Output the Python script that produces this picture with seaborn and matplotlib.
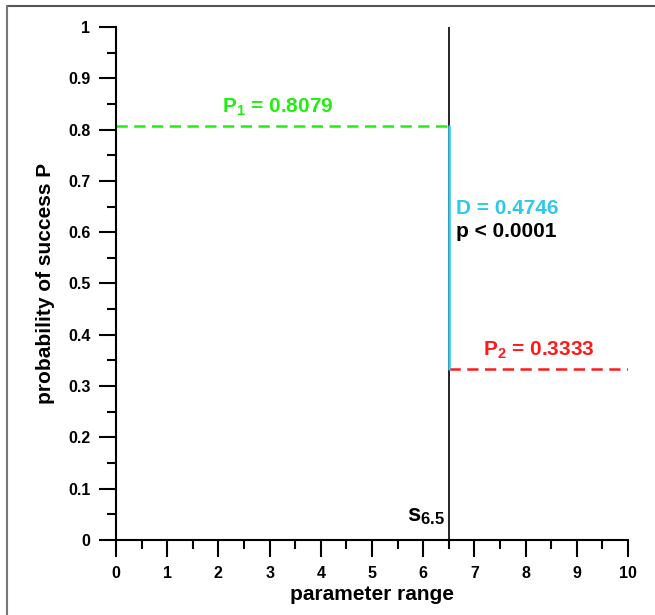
import matplotlib
matplotlib.use("Agg")
import matplotlib.pyplot as plt
from matplotlib.lines import Line2D
from matplotlib.ticker import MultipleLocator, FormatStrFormatter
import seaborn as sns

# data
split_x = 6.5
p1 = 0.8079
p2 = 0.3333
d_value = 0.4746
x_range = [0, 10]
p1_x = [0, 6.5]
p1_y = [0.8079, 0.8079]
p2_x = [6.5, 10]
p2_y = [0.3333, 0.3333]
d_x = [6.5, 6.5]
d_y = [0.3333, 0.8079]
split_y = [0, 1]

sns.set_theme(style="ticks")
plt.rcParams['font.family'] = ['Liberation Sans', 'DejaVu Sans']
plt.rcParams['font.weight'] = 'bold'
plt.rcParams['text.color'] = 'black'
plt.rcParams['axes.labelcolor'] = 'black'
plt.rcParams['mathtext.fontset'] = 'custom'
plt.rcParams['mathtext.rm'] = 'Liberation Sans:bold'
plt.rcParams['mathtext.bf'] = 'Liberation Sans:bold'
plt.rcParams['mathtext.it'] = 'Liberation Sans:bold'
plt.rcParams['mathtext.default'] = 'bf'

fig = plt.figure(figsize=(6.55, 6.15), dpi=100)
ax = fig.add_axes([116/655, 1-540/615, 512/655, 513/615])

green = '#22ee11'
cyan = '#2ec8ee'
red = '#ff1a1a'
dash = (0, (4.5, 2.6))

common = dict(ax=ax, estimator=None, sort=False, errorbar=None)
sns.lineplot(x=[split_x, split_x], y=split_y, color='black', lw=1.2, **common)
sns.lineplot(x=p1_x, y=p1_y, color=green, lw=1.8, linestyle=dash, **common)
sns.lineplot(x=p2_x, y=p2_y, color=red, lw=1.8, linestyle=dash, **common)
sns.lineplot(x=d_x, y=d_y, color=cyan, lw=1.8, **common)

ax.set_xlim(x_range)
ax.set_ylim(0, 1)
ax.xaxis.set_major_locator(MultipleLocator(1))
ax.xaxis.set_minor_locator(MultipleLocator(0.5))
ax.yaxis.set_major_locator(MultipleLocator(0.1))
ax.yaxis.set_minor_locator(MultipleLocator(0.05))
ax.yaxis.set_major_formatter(FormatStrFormatter('%g'))
ax.xaxis.set_major_formatter(FormatStrFormatter('%g'))

for s in ['top', 'right']:
    ax.spines[s].set_visible(False)
for s in ['left', 'bottom']:
    ax.spines[s].set_linewidth(1.5)
    ax.spines[s].set_color('black')

ax.tick_params(axis='both', which='major', direction='out', length=12.5, width=1.5,
               labelsize=11.5, colors='black', pad=6)
ax.tick_params(axis='both', which='minor', direction='out', length=6.5, width=1.5,
               colors='black')
for lab in ax.get_xticklabels() + ax.get_yticklabels():
    lab.set_fontweight('bold')

ax.set_xlabel('parameter range', fontsize=15, fontweight='bold', labelpad=3, color='black')
ax.set_ylabel('probability of success P', fontsize=15, fontweight='bold', labelpad=9, color='black')

ax.text(2.07, 0.832, r'P$_{1}$ = %.4f' % p1, color=green, fontsize=15, fontweight='bold')
ax.text(6.64, 0.635, 'D = %.4f' % d_value, color=cyan, fontsize=15, fontweight='bold')
ax.text(6.64, 0.59, 'p < 0.0001', color='black', fontsize=15, fontweight='bold')
ax.text(7.17, 0.36, r'P$_{2}$ = %.4f' % p2, color=red, fontsize=15, fontweight='bold')
ax.text(6.43, 0.037, r's$_{6.5}$', color='black', fontsize=17, fontweight='bold', ha='right')

# partial frame (top and left)
fig.add_artist(Line2D([7/655, 1], [1-6/615, 1-6/615], transform=fig.transFigure, color='#555555', lw=1.5))
fig.add_artist(Line2D([7/655, 7/655], [0, 1-6/615], transform=fig.transFigure, color='#777777', lw=1.5))

fig.savefig('out.png', dpi=100)
